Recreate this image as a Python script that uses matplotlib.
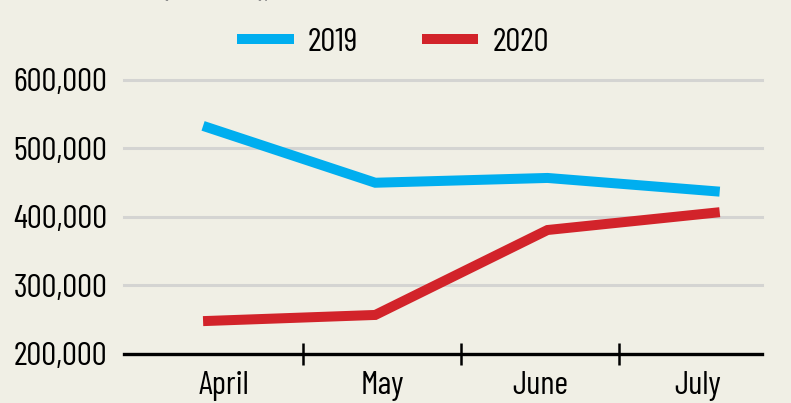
import matplotlib
matplotlib.use("Agg")
import matplotlib.pyplot as plt
from matplotlib.ticker import FixedLocator, FuncFormatter

months = ["April", "May", "June", "July"]
values_2019 = [533000, 450000, 457000, 437000]
values_2020 = [248000, 257000, 381000, 407000]
y_ticks = [200000, 300000, 400000, 500000, 600000]

BG = "#f0efe5"
BLUE = "#00aeef"
RED = "#d2232a"
FS = 24

plt.rcParams["font.family"] = ["Barlow Condensed", "DejaVu Sans"]

fig = plt.figure(figsize=(7.91, 4.03), dpi=100, facecolor=BG)
ax = fig.add_axes([0.157, 0.1216, 0.806, 0.6799], facecolor=BG)

x = list(range(len(months)))
ax.plot(x, values_2019, color=BLUE, lw=7.2, solid_capstyle="butt",
        solid_joinstyle="miter", label="2019", zorder=3)
ax.plot(x, values_2020, color=RED, lw=7.2, solid_capstyle="butt",
        solid_joinstyle="miter", label="2020", zorder=3)

ax.set_ylim(200000, 600000)
ax.set_xlim(-0.458, 3.244)

# gridlines
for v in y_ticks[1:]:
    ax.axhline(v, color="#d4d4d2", lw=2.2, zorder=1, clip_on=False)

for side in ["top", "right", "left"]:
    ax.spines[side].set_visible(False)
ax.spines["bottom"].set_linewidth(2.4)
ax.spines["bottom"].set_color("black")

ax.set_yticks(y_ticks)
ax.yaxis.set_major_formatter(FuncFormatter(lambda v, p: f"{int(v):,}"))
ax.tick_params(axis="y", length=0, pad=12, labelsize=FS)

# category band labels and separators
band_start, band_step = -0.337, 0.917
label_pos = [band_start + band_step * (i + 0.5) for i in range(len(months))]
sep_pos = [band_start + band_step * i for i in range(1, len(months))]
ax.xaxis.set_major_locator(FixedLocator(label_pos))
ax.set_xticklabels(months)
ax.xaxis.set_minor_locator(FixedLocator(sep_pos))
ax.tick_params(axis="x", which="major", length=0, pad=12, labelsize=FS)
ax.tick_params(axis="x", which="minor", direction="inout", length=16,
               width=1.8, color="black")

# cut-off title at the top
fig.text(0.205, 1 + 2.5 / 403, "(number),", color="#8e8e8e", fontsize=FS,
         va="baseline", ha="left")

fig.legend(loc="center", bbox_to_anchor=(0.497, 0.894), ncol=2,
           frameon=False, fontsize=FS, handlelength=1.7,
           handletextpad=0.42, columnspacing=1.9)

fig.savefig("out.png", dpi=100, facecolor=BG)
